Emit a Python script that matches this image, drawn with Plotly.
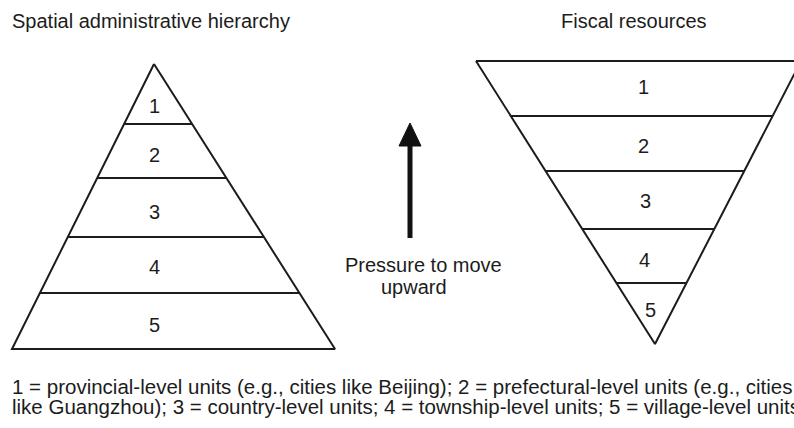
import plotly.graph_objects as go

# ---- data ----
tier_labels = ["1", "2", "3", "4", "5"]
# tier boundaries (top -> bottom) for each triangle, in diagram units
hierarchy_bounds = [64, 124, 178, 237, 293, 349]
fiscal_bounds = [61, 116, 171, 229, 283, 344]
hierarchy_label_y = [106, 155, 212, 267, 325]
fiscal_label_y = [87, 146, 201, 260, 310]
fiscal_label_x = [643, 643, 645, 644, 650]
titles = ["Spatial administrative hierarchy", "Fiscal resources"]
arrow_text = ["Pressure to move", "upward"]
legend_lines = [
    "1 = provincial-level units (e.g., cities like Beijing); 2 = prefectural-level units (e.g., cities",
    "like Guangzhou); 3 = country-level units; 4 = township-level units; 5 = village-level units",
]

# ---- geometry ----
W, H = 794, 428
INK = "#1c1c1c"
FONT = "Liberation Sans, Arial, sans-serif"

left_apex = (154, hierarchy_bounds[0])
left_bl = (12, hierarchy_bounds[-1])
left_br = (335, hierarchy_bounds[-1])

right_tl = (476, fiscal_bounds[0])
right_tr = (801, fiscal_bounds[0])
right_apex = (655, fiscal_bounds[-1])


def edge_x(p0, p1, y):
    (x0, y0), (x1, y1) = p0, p1
    return x0 + (x1 - x0) * (y - y0) / (y1 - y0)


fig = go.Figure()

# left pyramid outline
fig.add_trace(go.Scatter(
    x=[left_apex[0], left_br[0], left_bl[0], left_apex[0]],
    y=[left_apex[1], left_br[1], left_bl[1], left_apex[1]],
    mode="lines", line=dict(color=INK, width=2), hoverinfo="skip"))
# left pyramid tier lines
lx, ly = [], []
for yb in hierarchy_bounds[1:-1]:
    lx += [edge_x(left_apex, left_bl, yb), edge_x(left_apex, left_br, yb), None]
    ly += [yb, yb, None]
fig.add_trace(go.Scatter(x=lx, y=ly, mode="lines",
                         line=dict(color=INK, width=2.2), hoverinfo="skip"))

# right inverted pyramid outline
fig.add_trace(go.Scatter(
    x=[right_tl[0], right_tr[0], right_apex[0], right_tl[0]],
    y=[right_tl[1], right_tr[1], right_apex[1], right_tl[1]],
    mode="lines", line=dict(color=INK, width=2), hoverinfo="skip"))
rx, ry = [], []
for yb in fiscal_bounds[1:-1]:
    rx += [edge_x(right_tl, right_apex, yb), edge_x(right_tr, right_apex, yb), None]
    ry += [yb, yb, None]
fig.add_trace(go.Scatter(x=rx, y=ry, mode="lines",
                         line=dict(color=INK, width=2.2), hoverinfo="skip"))

# arrow
fig.add_trace(go.Scatter(x=[410, 410], y=[238, 143], mode="lines",
                         line=dict(color="#111111", width=5), hoverinfo="skip"))
fig.add_trace(go.Scatter(x=[399, 421, 410, 399], y=[146, 146, 123, 146],
                         mode="lines", fill="toself", fillcolor="#111111",
                         line=dict(color="#111111", width=1), hoverinfo="skip"))

ann = []
for lab, y in zip(tier_labels, hierarchy_label_y):
    ann.append(dict(x=154, y=y, text=lab, showarrow=False, xanchor="center",
                    yanchor="middle", font=dict(size=20, color=INK, family=FONT)))
for lab, x, y in zip(tier_labels, fiscal_label_x, fiscal_label_y):
    ann.append(dict(x=x, y=y, text=lab, showarrow=False, xanchor="center",
                    yanchor="middle", font=dict(size=20, color=INK, family=FONT)))

ann.append(dict(x=10, y=21, text=titles[0], showarrow=False, xanchor="left",
                yanchor="middle", font=dict(size=20, color=INK, family=FONT)))
ann.append(dict(x=634, y=21, text=titles[1], showarrow=False, xanchor="center",
                yanchor="middle", font=dict(size=20, color=INK, family=FONT)))
ann.append(dict(x=343, y=265, text=arrow_text[0], showarrow=False, xanchor="left",
                yanchor="middle", font=dict(size=20, color=INK, family=FONT)))
ann.append(dict(x=379, y=287, text=arrow_text[1], showarrow=False, xanchor="left",
                yanchor="middle", font=dict(size=20, color=INK, family=FONT)))
for i, line in enumerate(legend_lines):
    ann.append(dict(x=10, y=386 + 20 * i, text=line, showarrow=False, xanchor="left",
                    yanchor="middle", font=dict(size=20.5, color=INK, family=FONT)))

fig.update_layout(
    width=W, height=H,
    margin=dict(l=0, r=0, t=0, b=0),
    paper_bgcolor="white", plot_bgcolor="white",
    showlegend=False,
    xaxis=dict(range=[0, W], visible=False, fixedrange=True),
    yaxis=dict(range=[H, 0], visible=False, fixedrange=True),
    annotations=ann,
)

fig.write_html("out.html", config={"displayModeBar": False},
               post_script="document.body.style.margin='0';document.body.style.overflow='hidden';")
